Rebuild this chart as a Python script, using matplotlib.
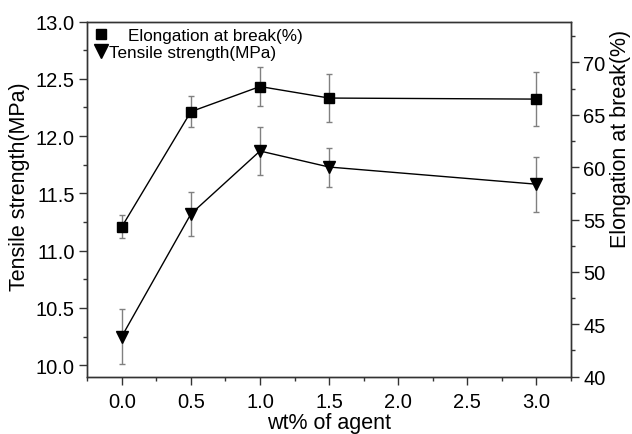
import numpy as np
import matplotlib
matplotlib.use('Agg')
import matplotlib.pyplot as plt
from matplotlib.ticker import MultipleLocator
from matplotlib.lines import Line2D

plt.rcParams['font.family'] = ['Liberation Sans', 'DejaVu Sans']

# agent loading (wt%)
wt = [0.0, 0.5, 1.0, 1.5, 3.0]
# tensile strength (MPa) and its error
tensile = [10.25, 11.32, 11.87, 11.73, 11.58]
tensile_err = [0.24, 0.19, 0.21, 0.17, 0.24]
# elongation at break (%) and its error
elong = [54.3, 65.3, 67.7, 66.6, 66.5]
elong_err = [1.1, 1.46, 1.89, 2.27, 2.6]

fig = plt.figure(figsize=(6.32, 4.35), dpi=100)
ax = fig.add_axes([0.138, 0.132, 0.7655, 0.816])
ax2 = ax.twinx()

err_kw = dict(ecolor='#808080', elinewidth=1, capsize=2.4, capthick=1)

ax.errorbar(wt, tensile, yerr=tensile_err, fmt='none', zorder=2, **err_kw)
ax.plot(wt, tensile, color='black', lw=1, marker='v', ms=8.3,
        mfc='black', mec='black', zorder=3)

ax2.errorbar(wt, elong, yerr=elong_err, fmt='none', zorder=2, **err_kw)
ax2.plot(wt, elong, color='black', lw=1, marker='s', ms=7.3,
         mfc='black', mec='black', zorder=3)

ax.set_xlim(-0.25, 3.25)
ax.set_ylim(9.9, 13.0)
ax2.set_ylim(40, 73.9)

ax.xaxis.set_major_locator(MultipleLocator(0.5))
ax.xaxis.set_minor_locator(MultipleLocator(0.25))
ax.yaxis.set_major_locator(MultipleLocator(0.5))
ax.yaxis.set_minor_locator(MultipleLocator(0.25))
ax2.yaxis.set_major_locator(MultipleLocator(5))
ax2.yaxis.set_minor_locator(MultipleLocator(2.5))
ax.set_xticks([0.0, 0.5, 1.0, 1.5, 2.0, 2.5, 3.0])
ax.set_xticklabels(['0.0', '0.5', '1.0', '1.5', '2.0', '2.5', '3.0'])
ax.set_yticks([10.0, 10.5, 11.0, 11.5, 12.0, 12.5, 13.0])
ax.set_yticklabels(['10.0', '10.5', '11.0', '11.5', '12.0', '12.5', '13.0'])
ax2.set_yticks([40, 45, 50, 55, 60, 65, 70])

for a in (ax, ax2):
    a.tick_params(which='major', direction='out', length=5.8, width=1,
                  labelsize=14.5, color='#333333', pad=3)
    a.tick_params(which='minor', direction='out', length=3, width=1,
                  color='#333333')
    for s in a.spines.values():
        s.set_color('#333333')
        s.set_linewidth(1)
ax.tick_params(axis='x', which='both', top=False)
ax.tick_params(axis='x', which='major', pad=5)

ax.set_xlabel('wt% of agent', fontsize=15.5, labelpad=1)
ax.set_ylabel('Tensile strength(MPa)', fontsize=15.5)
ax.yaxis.set_label_coords(-0.118, 0.537)
ax2.set_ylabel('Elongation at break(%)', fontsize=15.5, rotation=90)
ax2.yaxis.set_label_coords(1.08, 0.672)

handles = [
    Line2D([], [], ls='none', marker='s', ms=7.2, color='black'),
    Line2D([], [], ls='none', marker='v', ms=9.5, color='black'),
]
labels = ['    Elongation at break(%)', 'Tensile strength(MPa)']
ax.legend(handles, labels, loc='upper left', frameon=False, fontsize=12.3,
          handlelength=0.9, handletextpad=0.04, borderaxespad=0.2,
          labelspacing=0.12, borderpad=0.15)

fig.savefig('out.png', dpi=100)
